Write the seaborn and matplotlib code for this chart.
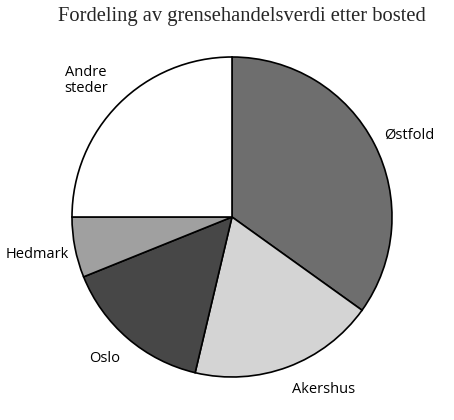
import matplotlib
matplotlib.use("Agg")
import matplotlib.pyplot as plt
import numpy as np
import seaborn as sns

# Data
regions = ["Østfold", "Akershus", "Oslo", "Hedmark", "Andre\nsteder"]
shares = [34.9, 18.8, 15.2, 6.1, 25.0]
colors = ["#6e6e6e", "#d4d4d4", "#474747", "#a0a0a0", "#ffffff"]

# small hand nudges of the labels (angle in degrees, distance in radii)
label_turn = [-2.5, 7.5, -1.2, 0.0, 2.0]
label_dist = [1.22, 1.22, 1.19, 1.24, 1.25]

sns.set_style("white")
plt.rcParams["font.family"] = ["Open Sans", "DejaVu Sans"]

fig = plt.figure(figsize=(4.54, 4.20), dpi=100)
ax = fig.add_axes([72 / 454, 43 / 420, 320 / 454, 320 / 420])

wedges, texts = ax.pie(
    shares,
    labels=regions,
    colors=colors,
    startangle=90,
    counterclock=False,
    wedgeprops=dict(edgecolor="black", linewidth=1.2),
    textprops=dict(fontsize=10.5, color="black"),
)
for w, t, turn, dist in zip(wedges, texts, label_turn, label_dist):
    ang = np.deg2rad((w.theta1 + w.theta2) / 2 + turn)
    t.set_position((dist * np.cos(ang), dist * np.sin(ang)))
    t.set_horizontalalignment("center")
    t.set_verticalalignment("center")
    t.set_multialignment("center")
    t.set_linespacing(1.15)

ax.set_xlim(-1, 1)
ax.set_ylim(-1, 1)
ax.set_aspect("equal")

fig.text(242 / 454, 1 - 16 / 420, "Fordeling av grensehandelsverdi etter bosted",
         ha="center", va="center", fontsize=14.8, family="Liberation Serif")

fig.savefig("out.png", dpi=100, facecolor="white")
